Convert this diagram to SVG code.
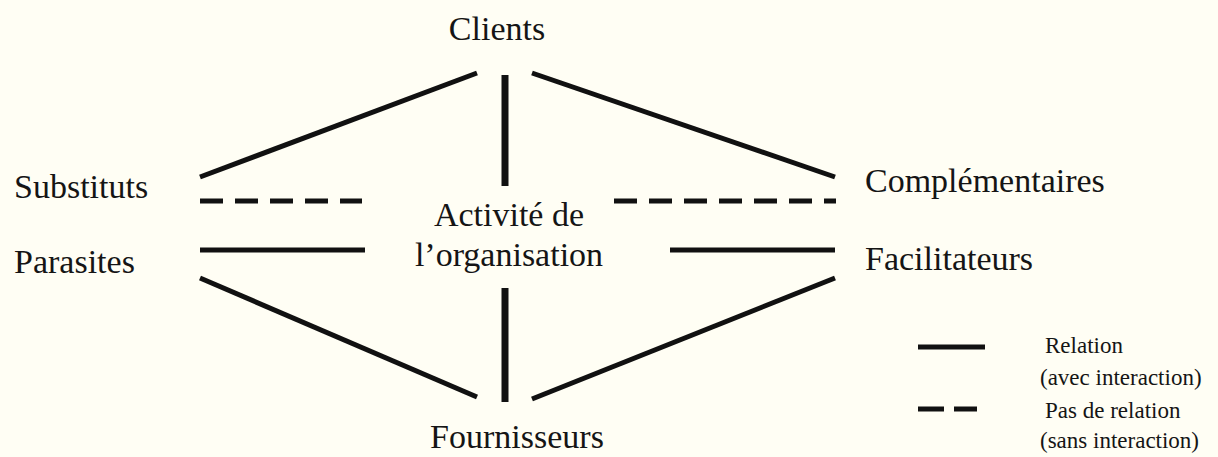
<svg xmlns="http://www.w3.org/2000/svg" width="1218" height="457" viewBox="0 0 1218 457">
<style>
.t{font-family:"Liberation Serif","Times New Roman",serif;font-size:34px;fill:#151515}
.l{font-family:"Liberation Serif","Times New Roman",serif;font-size:23px;fill:#151515}
.s{stroke:#111;stroke-width:5;fill:none}
.v{stroke:#111;stroke-width:7;fill:none}
.d{stroke:#111;stroke-width:5;fill:none;stroke-dasharray:23 12}
</style>
<rect width="1218" height="457" fill="#FFFEF4"/>
<g id="connectors">
<line class="s" x1="200" y1="177" x2="477" y2="73"/>
<line class="v" x1="505" y1="75" x2="505" y2="186"/>
<line class="s" x1="532" y1="73" x2="835" y2="177"/>
<line class="d" x1="200" y1="201" x2="362" y2="201"/>
<line class="d" x1="614" y1="201" x2="836" y2="201"/>
<line class="s" x1="200" y1="250" x2="365" y2="250"/>
<line class="s" x1="670" y1="250" x2="835" y2="250"/>
<line class="s" x1="200" y1="278" x2="477" y2="397"/>
<line class="v" x1="505" y1="288" x2="505" y2="402"/>
<line class="s" x1="532" y1="399" x2="835" y2="278"/>
</g>
<g id="clients"><text class="t" x="497" y="40" text-anchor="middle">Clients</text></g>
<g id="substituts"><text class="t" x="14" y="198">Substituts</text></g>
<g id="parasites"><text class="t" x="14" y="273">Parasites</text></g>
<g id="activite"><text class="t" x="509" y="226" text-anchor="middle">Activité de</text><text class="t" x="509" y="266" text-anchor="middle">l’organisation</text></g>
<g id="complementaires"><text class="t" x="865" y="192">Complémentaires</text></g>
<g id="facilitateurs"><text class="t" x="865" y="270">Facilitateurs</text></g>
<g id="fournisseurs"><text class="t" x="517" y="448" text-anchor="middle">Fournisseurs</text></g>
<g id="legend">
<line class="s" x1="918" y1="347" x2="985" y2="347"/>
<line class="s" x1="918" y1="409" x2="944" y2="409"/>
<line class="s" x1="954" y1="409" x2="977" y2="409"/>
<text class="l" x="1045" y="353">Relation</text>
<text class="l" x="1040" y="385">(avec interaction)</text>
<text class="l" x="1045" y="418">Pas de relation</text>
<text class="l" x="1040" y="448">(sans interaction)</text>
</g>
</svg>
